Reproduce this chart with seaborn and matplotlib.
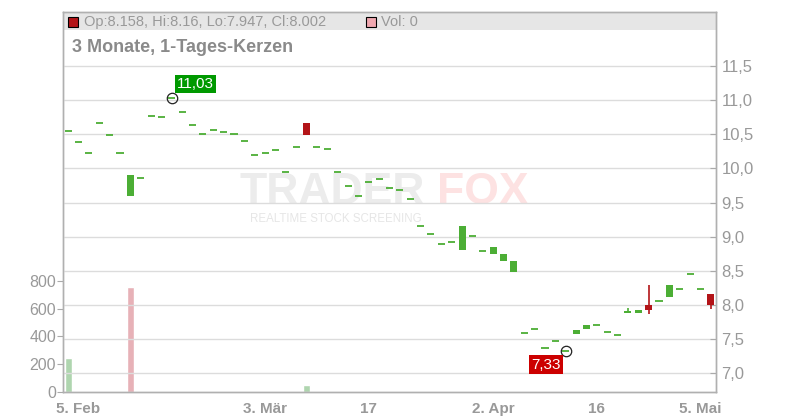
import numpy as np
import pandas as pd
import matplotlib.pyplot as plt
import seaborn as sns
from matplotlib.patches import Rectangle

# Handelstage 4. Feb - 6. Mai 2025 (ohne Karfreitag, Ostermontag, 1. Mai)
dates = pd.bdate_range('2025-02-04', '2025-05-06')
dates = dates.drop(pd.to_datetime(['2025-04-18', '2025-04-21', '2025-05-01']))

open_ = [10.55, 10.39, 10.23, 10.67, 10.49, 10.23, 9.60, 9.86, 10.76, 10.75,
         11.03, 10.82, 10.63, 10.50, 10.56, 10.53, 10.50, 10.40, 10.19, 10.22,
         10.27, 9.94, 10.31, 10.67, 10.31, 10.28, 9.94, 9.74, 9.59, 9.80,
         9.84, 9.72, 9.68, 9.55, 9.15, 9.04, 8.89, 8.92, 8.80, 9.01,
         8.79, 8.75, 8.65, 8.49, 7.59, 7.645, 7.37, 7.48, 7.33, 7.57,
         7.655, 7.70, 7.60, 7.56, 7.88, 7.88, 8.00, 8.06, 8.12, 8.23,
         8.455, 8.23, 8.158]
close = [10.55, 10.39, 10.23, 10.67, 10.49, 10.23, 9.90, 9.86, 10.76, 10.75,
         11.03, 10.82, 10.63, 10.50, 10.56, 10.53, 10.50, 10.40, 10.19, 10.22,
         10.27, 9.94, 10.31, 10.49, 10.31, 10.28, 9.94, 9.74, 9.59, 9.80,
         9.84, 9.72, 9.68, 9.55, 9.15, 9.04, 8.89, 8.92, 9.16, 9.01,
         8.79, 8.85, 8.75, 8.64, 7.59, 7.645, 7.37, 7.48, 7.33, 7.63,
         7.70, 7.70, 7.60, 7.56, 7.91, 7.93, 7.92, 8.06, 8.29, 8.23,
         8.455, 8.23, 8.002]
high = list(np.maximum(open_, close))
low = list(np.minimum(open_, close))
high[54] = 7.96
high[56], low[56] = 8.29, 7.87
high[62], low[62] = 8.16, 7.947

volume = [0] * len(dates)
volume[0] = 245
volume[6] = 757
volume[23] = 50

tick_dates = ['2025-02-05', '2025-03-03', '2025-03-17', '2025-04-02', '2025-04-16', '2025-05-05']
tick_labels = ['5. Feb', '3. Mär', '17', '2. Apr', '16', '5. Mai']
price_ticks = [7.0, 7.5, 8.0, 8.5, 9.0, 9.5, 10.0, 10.5, 11.0, 11.5]
vol_ticks = [0, 200, 400, 600, 800]

df = pd.DataFrame({'date': dates, 'open': open_, 'high': high, 'low': low,
                   'close': close, 'volume': volume})
df['i'] = np.arange(len(df))
prev = df.close.shift(1).fillna(df.close)
df['richtung'] = np.where(df.close >= prev, 'auf', 'ab')

sns.set_theme(style='white')
plt.rcParams['font.family'] = ['Liberation Sans', 'DejaVu Sans']

GRAU = '#999999'
GRUEN = '#4cae35'
ROT = '#b31418'
H = 420  # Bildhöhe in Pixel

fig = plt.figure(figsize=(8, 4.2), dpi=100)
ax = fig.add_axes([63 / 800, 28 / 420, 653 / 800, 380 / 420])
ax2 = ax.twinx()

# Kopfband
ax.add_patch(Rectangle((0, (392 - 30) / 380), 1, 18 / 380, transform=ax.transAxes,
                       color='#e6e6e6', zorder=0.1, lw=0))

# Wasserzeichen (Pixel von oben gemessen)
ax.text(240, H - 192, 'TRADER', transform=None, fontsize=32, fontweight='bold',
        color='#ececec', va='center', ha='left', zorder=0.2)
ax.text(437, H - 192, 'FOX', transform=None, fontsize=32, fontweight='bold',
        color='#fde2e2', va='center', ha='left', zorder=0.2)
ax.text(250, H - 219, 'REALTIME STOCK SCREENING', transform=None, fontsize=8.3,
        color='#e6e6e6', va='center', ha='left', zorder=0.2)

# Volumen
sns.barplot(data=df, x='i', y='volume', hue='richtung', native_scale=True,
            palette={'auf': '#a8dca8', 'ab': '#f0a8b0'}, width=0.68,
            legend=False, ax=ax, zorder=1)

# Kerzen
w = 0.68
for _, r in df.iterrows():
    farbe = GRUEN if r.close >= r.open else ROT
    if r.high > max(r.open, r.close) or r.low < min(r.open, r.close):
        ax2.vlines(r.i, r.low, r.high, color=farbe, lw=1.2, zorder=2)
    if abs(r.close - r.open) < 0.005:
        ax2.hlines(r.close, r.i - w / 2, r.i + w / 2, color=farbe, lw=1.3, zorder=3)
    else:
        ax2.bar(r.i, abs(r.close - r.open), bottom=min(r.open, r.close), width=w,
                color=farbe, lw=0, zorder=3)

# Hoch / Tief
imax = int(df.high.idxmax())
imin = int(df.low.idxmin())
for idx, wert, col, off in [(imax, df.high[imax], '#009900', (17, 10)),
                            (imin, df.low[imin], '#cc0000', (-14, -10))]:
    ax2.plot(idx, wert, 'o', ms=7.5, mfc='none', mec='#222222', mew=0.9, zorder=4)
    ax2.annotate(f'{wert:.2f}'.replace('.', ','), (idx, wert), xytext=off,
                 textcoords='offset points', ha='center', va='center',
                 fontsize=11, color='white', zorder=5,
                 bbox=dict(boxstyle='square,pad=0.15', fc=col, ec='none'))

# Achsen
ax.set_xlim(-0.5, len(df) - 0.5)
ax.set_ylim(0, 2731)
ax2.set_ylim(6.726, 12.29)

pos = [int(np.where(df.date == pd.Timestamp(d))[0][0]) for d in tick_dates]
ax.set_xticks(pos)
ax.set_xticklabels(tick_labels, fontweight='bold', fontsize=11, color=GRAU)
ax.set_yticks(vol_ticks)
ax.set_yticklabels([str(v) for v in vol_ticks], fontsize=11.5, color=GRAU)
ax2.set_yticks(price_ticks)
ax2.set_yticklabels([f'{v:.1f}'.replace('.', ',') for v in price_ticks],
                    fontsize=12, color=GRAU)
ax.set_xlabel('')
ax.set_ylabel('')
ax2.set_ylabel('')

ax.tick_params(axis='x', direction='out', length=4, width=0.8, color='#aaaaaa', pad=3)
ax.tick_params(axis='y', direction='out', length=4, width=0.8, color='#aaaaaa', pad=1)
ax2.tick_params(axis='y', direction='in', length=4, width=0.8, color='#aaaaaa', pad=4)

ax2.grid(True, axis='both', color='#dcdcdc', lw=1)
ax2.set_axisbelow(True)
ax2.set_xticks(pos)
ax.grid(False)
for a in (ax, ax2):
    for s in a.spines.values():
        s.set_color('#b0b0b0')
        s.set_linewidth(1)

# Kopfzeile
fig.add_artist(Rectangle((68 / 800, 1 - 27 / 420), 10 / 800, 10 / 420,
                         fc=ROT, ec='black', lw=0.8, transform=fig.transFigure))
fig.text(84 / 800, 1 - 22 / 420, 'Op:8.158, Hi:8.16, Lo:7.947, Cl:8.002',
         fontsize=10.5, color=GRAU, va='center', ha='left')
fig.add_artist(Rectangle((366 / 800, 1 - 27 / 420), 10 / 800, 10 / 420,
                         fc='#f0a8b0', ec='black', lw=0.8, transform=fig.transFigure))
fig.text(381 / 800, 1 - 22 / 420, 'Vol: 0', fontsize=10.5, color=GRAU,
         va='center', ha='left')
fig.text(72 / 800, 1 - 47 / 420, '3 Monate, 1-Tages-Kerzen', fontsize=13,
         fontweight='bold', color='#8a8a8a', va='center', ha='left')

fig.savefig('out.png', dpi=100)
